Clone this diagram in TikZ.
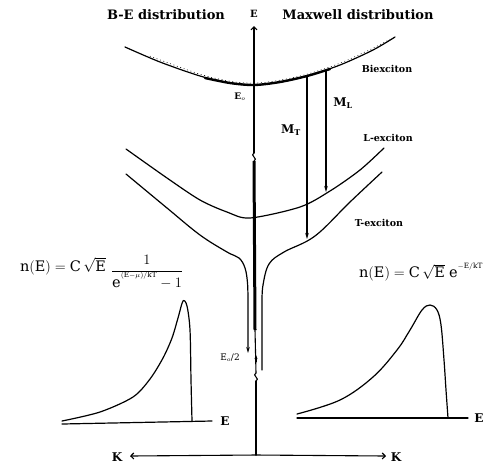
\documentclass[tikz,border=0pt]{standalone}
\usepackage{fontspec}
\setmainfont{DejaVu Serif}
\usetikzlibrary{arrows.meta}
\begin{document}
\begin{tikzpicture}[x=1pt,y=-1pt, line cap=round, line join=round,
  curve/.style={line width=1.2pt},
  lbl/.style={font=\bfseries\fontsize{9.5}{11}\selectfont, inner sep=0pt},
  ttl/.style={font=\bfseries\fontsize{13}{15}\selectfont, inner sep=0pt},
  big/.style={font=\bfseries\fontsize{12}{14}\selectfont, inner sep=0pt},
  frm/.style={font=\fontsize{14.5}{17}\selectfont, inner sep=0pt},
  tip/.style={-{Stealth[length=6pt,width=3.5pt]}},
  barb/.style={-{Straight Barb[length=3pt,width=6pt]}}]
\useasboundingbox (0,0) rectangle (486,467);

% titles
\node[ttl] (bet) at (166,15) {B-E distribution};
\node[ttl] (mxt) at (358,15) {Maxwell distribution};
\node[font=\bfseries\fontsize{10}{11}\selectfont, inner sep=0pt] (elab) at (254,14) {E};

% energy axis with breaks
\coordinate (ax0) at (256,455);
\coordinate (axb1) at (256,381);
\coordinate (axb1t) at (256,373);
\coordinate (axb2) at (254,161);
\coordinate (axb2t) at (254,153);
\coordinate (axtop) at (254,26);
\draw[line width=1.1pt] (ax0) -- (axb1);
\draw[line width=1.1pt] (axb1) .. controls (261,379) and (251,375) .. (axb1t);
\draw[line width=1.1pt] (axb1t) -- (255,330);
\draw[line width=3pt, line cap=butt] (255,330) -- (254,161);
\draw[line width=1.1pt] (axb2) .. controls (259,159) and (249,155) .. (axb2t);
\draw[line width=1.1pt, barb] (axb2t) -- (axtop);
\draw[line width=0.7pt, -{Stealth[length=4pt,width=3pt]}] (256,362) -- (256,355);

% K axis
\coordinate (kl) at (130,456);
\coordinate (kr) at (386,456);
\draw[line width=1.1pt, barb] (ax0) -- (kl);
\draw[line width=1.1pt, barb] (ax0) -- (kr);
\node[big] (klab) at (117,457) {K};
\node[big] (krab) at (396,457) {K};

% biexciton
\draw[curve] plot[smooth] coordinates {(125,47) (160,62) (200,76) (230,83) (254,85) (280,82) (307,76) (340,65) (373,50) (395,37)};
\draw[line width=2.4pt] plot[smooth] coordinates {(205,78) (230,83) (254,85) (280,82) (307,76) (330,69)};
\draw[line width=0.6pt, dash pattern=on 0.6pt off 3pt, yshift=1.8pt] plot[smooth] coordinates {(150,58) (200,76) (230,83) (254,85) (280,82) (307,76) (340,65) (373,50) (390,41)};
\node[lbl] (bx) at (387,69) {Biexciton};
\node[font=\bfseries\fontsize{9}{10}\selectfont, inner sep=0pt] (e0) at (240,97) {E$_o$};

% transitions
\coordinate (mt0) at (307,76);
\coordinate (mt1) at (307,239);
\coordinate (ml0) at (326,71);
\coordinate (ml1) at (326,192);
\draw[curve, tip] (mt0) -- (mt1);
\draw[curve, tip] (ml0) -- (ml1);
\node[font=\bfseries\fontsize{12}{13}\selectfont, inner sep=0pt] (mtl) at (291,130) {M$_{\mathbf{T}}$};
\node[font=\bfseries\fontsize{12}{13}\selectfont, inner sep=0pt] (mll) at (343,103) {M$_{\mathbf{L}}$};

% L-exciton
\draw[curve] plot[smooth] coordinates {(126,149) (167,178) (200,200) (227,212) (250,218) (300,207) (330,191) (360,170) (384,148)};
\node[lbl] (lx) at (388,138) {L-exciton};

% T-exciton
\draw[curve, tip] plot[smooth, tension=0.6] coordinates {(126,174) (167,208) (200,235) (227,252) (239,258) (245,268) (247.5,283) (248,302)} -- (248,353);
\draw[curve] plot[smooth, tension=0.6] coordinates {(382,172) (350,202) (315,236) (284,252) (269,264) (263,285) (262,302)} -- (262,370);
\node[lbl] (tx) at (379,223) {T-exciton};
\node[font=\fontsize{9}{10}\selectfont, inner sep=0pt] (e02) at (230,358) {E$_o$/2};

% formulas
\node[frm] (fl) at (63,266) {$\mathrm{n(E) = C}\,\sqrt{\mathrm{E}}$};
\node[font=\fontsize{14.5}{17}\selectfont, inner sep=0pt] (flf) at (147,272) {$\displaystyle\frac{1}{\mathrm{e}^{\scriptscriptstyle(\mathrm{E}-\mu)/\mathrm{kT}}-1}$};
\node[frm] (fr) at (421,272) {$\mathrm{n(E) = C}\,\sqrt{\mathrm{E}}\;\mathrm{e}^{\scriptscriptstyle -\mathrm{E}/\mathrm{kT}}$};

% B-E distribution plot
\draw[curve] (62,424) -- (212,421);
\node[big] (ebl) at (225,421) {E};
\draw[curve] plot[smooth, tension=0.5] coordinates {(62,421) (100,412) (133,397) (150,379) (163,358) (172,338) (178,318) (183,301) (187,306) (190,330) (191,380) (192,421)};

% Maxwell plot
\draw[curve] (297,418) -- (468,418);
\node[big] (ebr) at (479,418) {E};
\draw[curve] plot[smooth, tension=0.6] coordinates {(297,414) (340,400) (373,377) (397,350) (410,330) (422,310) (430,305) (437,310) (441,325) (444,360) (446,390) (448,418)};
\end{tikzpicture}
\end{document}
